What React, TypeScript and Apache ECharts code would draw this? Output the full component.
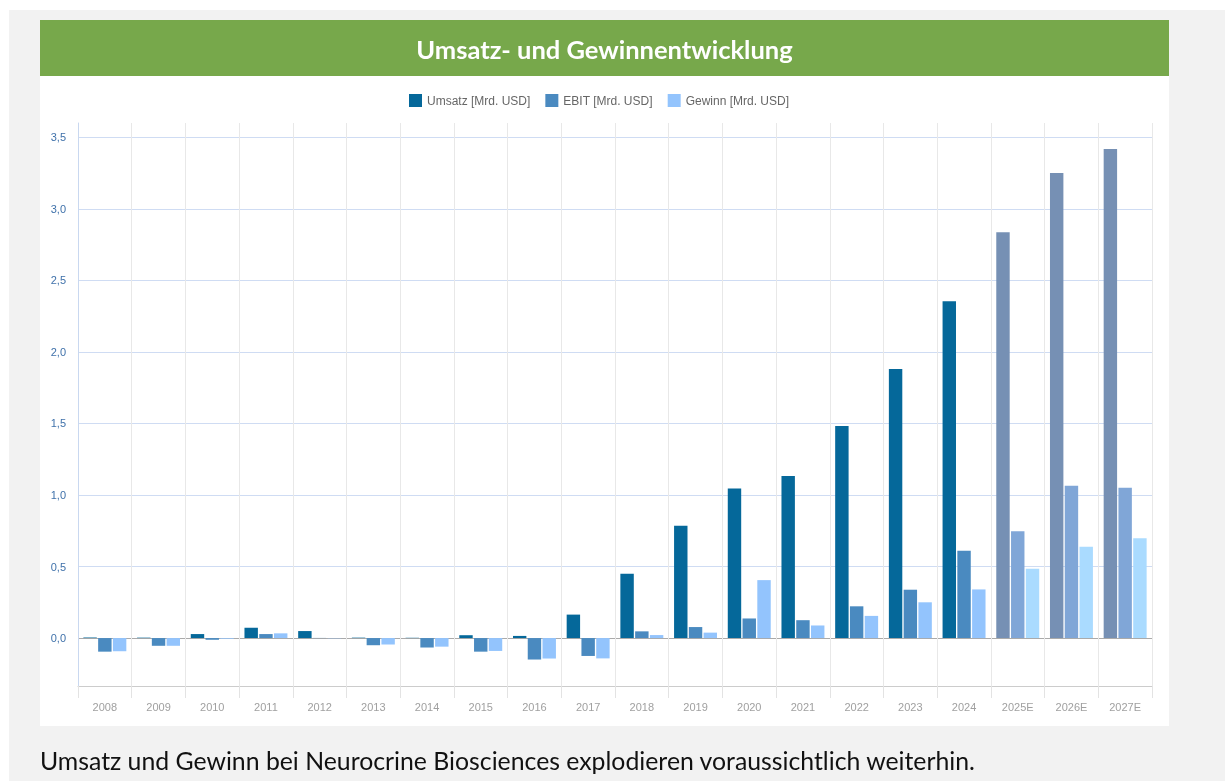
import React, { useEffect, useRef } from "react";
import * as echarts from "echarts";

const categories = ["2008","2009","2010","2011","2012","2013","2014","2015","2016","2017","2018","2019","2020","2021","2022","2023","2024","2025E","2026E","2027E"];
const umsatz = [0.004,0.003,0.028,0.072,0.049,0.003,0.002,0.02,0.015,0.164,0.45,0.785,1.045,1.133,1.483,1.881,2.355,2.837,3.25,3.418];
const ebit = [-0.095,-0.054,-0.012,0.028,0.001,-0.05,-0.066,-0.095,-0.15,-0.125,0.047,0.077,0.137,0.125,0.222,0.338,0.61,0.747,1.065,1.05];
const gewinn = [-0.092,-0.054,-0.005,0.033,-0.002,-0.045,-0.06,-0.09,-0.143,-0.142,0.021,0.038,0.405,0.088,0.155,0.25,0.34,0.485,0.638,0.698];
const yTicks = [0, 0.5, 1, 1.5, 2, 2.5, 3, 3.5];
const seriesNames = ["Umsatz [Mrd. USD]", "EBIT [Mrd. USD]", "Gewinn [Mrd. USD]"];
const colors = ["#05689a", "#4a8ac0", "#93c4fd"];
const estColors = ["#7690b4", "#80a6d7", "#aadbff"];

function build(values: number[], idx: number) {
  return values.map((v, i) =>
    categories[i].endsWith("E") ? { value: v, itemStyle: { color: estColors[idx] } } : v
  );
}

export default function App() {
  const ref = useRef<HTMLDivElement>(null);
  useEffect(() => {
    if (!ref.current) return;
    const chart = echarts.init(ref.current, null, { renderer: "svg" });
    const series = [umsatz, ebit, gewinn].map((vals, idx) => ({
      name: seriesNames[idx],
      type: "bar",
      data: build(vals, idx),
      itemStyle: { color: colors[idx] },
      barGap: "10%",
      barCategoryGap: "20%",
    }));
    chart.setOption({
      animation: false,
      color: colors,
      graphic: [
        { type: "rect", shape: { x: 0, y: 0, width: 1225, height: 781 }, style: { fill: "#ffffff" }, z: -10 },
        { type: "rect", shape: { x: 9, y: 10, width: 1216, height: 771 }, style: { fill: "#f2f2f2" }, z: -9 },
        { type: "rect", shape: { x: 40, y: 76, width: 1129, height: 650 }, style: { fill: "#ffffff" }, z: -8 },
        { type: "rect", shape: { x: 40, y: 20, width: 1129, height: 56 }, style: { fill: "#77a84b" }, z: -8 },
        {
          type: "text", x: 604.5, y: 49, z: 10,
          style: { text: "Umsatz- und Gewinnentwicklung", fill: "#ffffff", font: "bold 25.5px Lato", align: "center", verticalAlign: "middle" },
        },
        {
          type: "text", x: 40, y: 760, z: 10,
          style: { text: "Umsatz und Gewinn bei Neurocrine Biosciences explodieren voraussichtlich weiterhin.", fill: "#111111", font: "24.8px Lato", align: "left", verticalAlign: "middle" },
        },
      ],
      legend: {
        top: 89,
        left: 404,
        itemWidth: 13,
        itemHeight: 13,
        itemGap: 15,
        icon: "rect",
        textStyle: { color: "#666666", fontSize: 12, fontFamily: "Liberation Sans" },
        data: seriesNames,
      },
      grid: { left: 78, right: 73, top: 123, bottom: 95, containLabel: false },
      xAxis: {
        type: "category",
        data: categories,
        axisLine: { onZero: false, lineStyle: { color: "#cccccc" } },
        axisTick: { show: true, length: 12, lineStyle: { color: "#e3e3e3" } },
        splitLine: { show: true, lineStyle: { color: "#e8e8e8" } },
        axisLabel: { color: "#a0a0a0", fontSize: 11, fontFamily: "Liberation Sans", margin: 15 },
      },
      yAxis: {
        type: "value",
        min: -0.335,
        max: 3.6,
        axisLine: { show: true, lineStyle: { color: "#c9d8f0" } },
        axisTick: { show: false, customValues: yTicks },
        axisLabel: {
          customValues: yTicks,
          color: "#3f71aa",
          fontSize: 11,
          fontFamily: "Liberation Sans",
          margin: 12,
          formatter: (v: number) => v.toFixed(1).replace(".", ","),
        },
        splitLine: {
          show: true,
          lineStyle: { color: ["#aaaaaa", "#cfdcf3", "#cfdcf3", "#cfdcf3", "#cfdcf3", "#cfdcf3", "#cfdcf3", "#cfdcf3"] },
        },
      },
      series,
    });
    return () => chart.dispose();
  }, []);
  return <div ref={ref} style={{ position: "fixed", left: 0, top: 0, width: 1225, height: 781 }} />;
}
